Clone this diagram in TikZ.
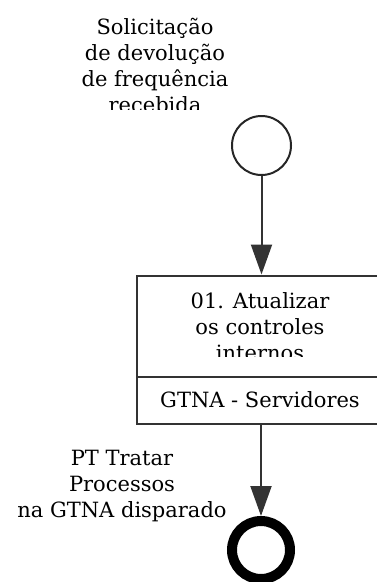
\documentclass[tikz,border=0pt]{standalone}
\usepackage{fontspec}
\setmainfont{DejaVu Serif}
\usetikzlibrary{arrows.meta}
\begin{document}
\begin{tikzpicture}[x=1pt,y=-1pt,
  lbl/.style={align=center,font=\fontsize{21}{26}\selectfont,inner sep=0pt},
  flow/.style={draw=black!80,line width=2pt,-{Triangle[length=30pt,width=21pt]}},
  boxline/.style={draw=black!80,line width=2pt}]
\useasboundingbox (0,0) rectangle (376,582);
% start event
\node[circle,draw=black!85,line width=2pt,minimum size=59pt,inner sep=0pt] (start) at (261.5,145.5) {};
\begin{scope}
\clip (40,0) rectangle (260,109);
\node[lbl,anchor=north] (startlbl) at (155,18) {Solicitação\\de devolução\\de frequência\\recebida};
\end{scope}
% task
\node[boxline,draw,rectangle,minimum width=250pt,minimum height=148.5pt,anchor=north west,inner sep=0pt] (task) at (136,274.5) {};
\coordinate (divL) at (136,377);
\coordinate (divR) at (386,377);
\draw[boxline] (divL) -- (divR);
\begin{scope}
\clip (137,276) rectangle (375,356);
\node[lbl,anchor=north] (tasklbl) at (260,292) {01. Atualizar\\os controles\\internos};
\end{scope}
\node[lbl] (lane) at (260,400) {GTNA - Servidores};
% end event
\node[circle,draw=black,line width=10pt,minimum size=58pt,inner sep=0pt] (end) at (261,550) {};
\node[lbl,anchor=north] (endlbl) at (122,450) {PT Tratar\\Processos\\na GTNA disparado};
% flows
\draw[flow] (start) -- (261.5,274.5);
\draw[flow] (261,423.5) -- (261,516);
\end{tikzpicture}
\end{document}
